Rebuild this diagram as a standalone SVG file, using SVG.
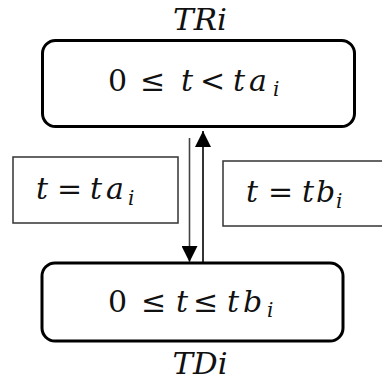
<svg xmlns="http://www.w3.org/2000/svg" width="382" height="381" viewBox="0 0 382 381">
<style>
.state{fill:#fff;stroke:#000;stroke-width:3}
.lbl{fill:#fff;stroke:#333;stroke-width:1.5}
.m{font-family:'DejaVu Serif','Liberation Serif',serif;font-size:30px;fill:#111}
.it{font-style:italic}
.sub{font-size:20px;font-style:italic}
.conn{stroke-width:1.6;fill:none}
</style>
<defs>
<marker id="ah" viewBox="0 0 16 16" refX="16" refY="8" markerWidth="16" markerHeight="16" markerUnits="userSpaceOnUse" orient="auto">
<path d="M0,0 L16,8 L0,16 Z" fill="#000"/>
</marker>
</defs>
<g id="TRi">
<rect class="state" x="42.5" y="40.5" width="312" height="86" rx="13"/>
<text class="m it" x="200" y="30" text-anchor="middle" textLength="54" lengthAdjust="spacingAndGlyphs">TRi</text>
<text class="m" y="91"><tspan x="108">0</tspan><tspan x="140">≤</tspan><tspan class="it" x="181">t</tspan><tspan x="200">&lt;</tspan><tspan class="it" x="233">t</tspan><tspan class="it" x="249">a</tspan><tspan class="sub" x="273" y="96">i</tspan></text>
</g>
<g id="TDi">
<rect class="state" x="42" y="263" width="301" height="78" rx="13"/>
<text class="m it" x="200" y="374" text-anchor="middle" textLength="55" lengthAdjust="spacingAndGlyphs">TDi</text>
<text class="m" y="312"><tspan x="108">0</tspan><tspan x="141">≤</tspan><tspan class="it" x="176">t</tspan><tspan x="193">≤</tspan><tspan class="it" x="227">t</tspan><tspan class="it" x="243">b</tspan><tspan class="sub" x="267" y="317">i</tspan></text>
</g>
<g id="label-a">
<rect class="lbl" x="13" y="157" width="165" height="66"/>
<text class="m" y="199"><tspan class="it" x="36">t</tspan><tspan x="57">=</tspan><tspan class="it" x="90">t</tspan><tspan class="it" x="106">a</tspan><tspan class="sub" x="128" y="205">i</tspan></text>
</g>
<g id="label-b">
<rect class="lbl" x="223" y="161" width="165" height="65"/>
<text class="m" y="202"><tspan class="it" x="246">t</tspan><tspan x="268">=</tspan><tspan class="it" x="302">t</tspan><tspan class="it" x="316">b</tspan><tspan class="sub" x="336" y="208">i</tspan></text>
</g>
<g id="connectors">
<line class="conn" x1="189.5" y1="138" x2="189.5" y2="262" stroke="#444" marker-end="url(#ah)"/>
<line class="conn" x1="203" y1="262" x2="203" y2="131" stroke="#000" marker-end="url(#ah)"/>
</g>
</svg>
